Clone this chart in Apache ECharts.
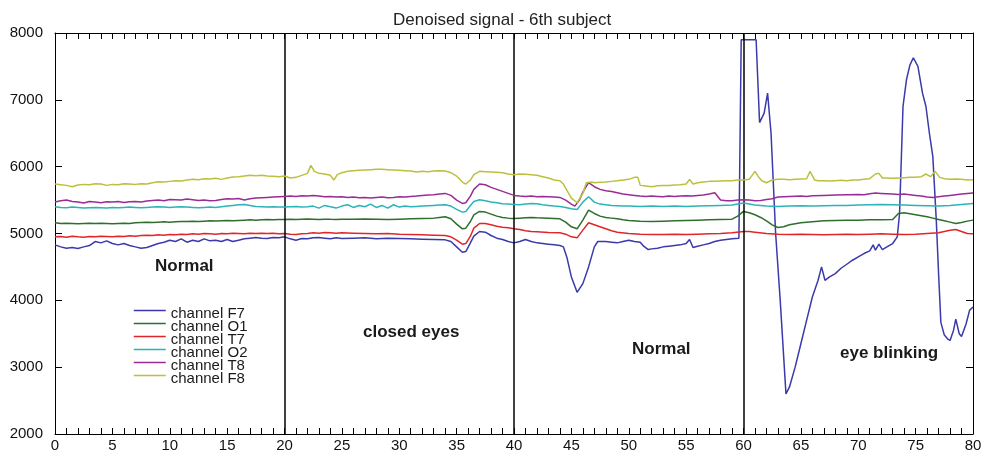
<!DOCTYPE html>
<html>
<head>
<meta charset="utf-8">
<title>Denoised signal - 6th subject</title>
<script src="https://cdn.jsdelivr.net/npm/echarts@6/dist/echarts.min.js"></script>
<style>
  html, body { margin: 0; padding: 0; background: #ffffff; }
  #chart { width: 989px; height: 453px; }
</style>
</head>
<body>
<div id="chart"></div>
<script>
// EEG channels after denoising: [time (s), amplitude]
const channelF7 = [
  [0,4830],[0.5,4800],[1,4780],[1.5,4790],[2,4775],[2.5,4800],[3,4820],[3.5,4880],[4,4860],[4.5,4890],
  [5,4850],[5.5,4830],[6,4850],[6.5,4820],[7,4800],[7.5,4780],[8,4790],[8.5,4820],[9,4850],[9.5,4870],
  [10,4900],[10.5,4880],[11,4920],[11.5,4870],[12,4900],[12.5,4880],[13,4920],[13.5,4890],[14,4900],[14.5,4880],
  [15,4910],[15.5,4880],[16,4900],[16.5,4920],[17,4930],[17.5,4940],[18,4930],[18.5,4925],[19,4940],[19.5,4935],
  [20,4950],[20.5,4920],[21,4900],[21.5,4925],[22,4920],[22.5,4935],[23,4940],[23.5,4930],[24,4920],[24.5,4935],
  [25,4925],[26,4930],[27,4935],[28,4920],[29,4930],[30,4925],[31,4920],[32,4915],[33,4910],[34,4905],
  [34.5,4880],[35,4800],[35.5,4720],[35.8,4730],[36.2,4860],[36.5,4960],[37,5030],[37.5,5020],[38,4970],[38.5,4930],
  [39,4910],[39.5,4880],[40,4860],[40.5,4880],[41,4910],[41.5,4880],[42,4860],[42.5,4850],[43,4840],[43.5,4830],
  [44,4820],[44.3,4800],[44.6,4650],[45,4350],[45.5,4120],[46,4250],[46.5,4500],[47,4800],[47.3,4880],[48,4880],
  [48.5,4870],[49,4860],[49.5,4880],[50,4900],[50.5,4880],[51,4870],[51.3,4810],[51.7,4760],[52,4770],[52.5,4780],
  [53,4800],[53.5,4810],[54,4820],[54.5,4830],[55,4850],[55.3,4910],[55.6,4790],[56,4810],[56.5,4830],[57,4850],
  [57.5,4880],[58,4900],[58.5,4910],[59,4920],[59.6,4930],[59.8,7900],[61.1,7900],[61.4,6660],[61.8,6800],[62.1,7100],
  [62.4,6500],[62.8,5000],[63.2,4000],[63.7,2600],[64,2700],[64.5,3000],[65,3350],[65.5,3700],[66,4050],[66.5,4300],
  [66.8,4500],[67.1,4300],[67.5,4350],[68,4400],[68.5,4480],[69,4540],[69.5,4600],[70,4650],[70.5,4700],[71,4740],
  [71.3,4830],[71.5,4750],[71.8,4840],[72.1,4760],[72.5,4800],[73,4850],[73.4,4950],[73.6,5300],[73.9,6900],[74.2,7300],
  [74.5,7520],[74.8,7630],[75.2,7500],[75.6,7100],[75.9,6900],[76.2,6500],[76.5,6150],[76.8,5200],[77,4400],[77.2,3670],
  [77.5,3480],[77.8,3420],[78,3400],[78.3,3550],[78.5,3720],[78.8,3500],[79,3460],[79.4,3650],[79.7,3850],[80,3900]
];

const channelO1 = [
  [0,5160],[0.5,5150],[1,5155],[1.5,5150],[2,5145],[2.5,5150],[3,5155],[3.5,5150],[4,5155],[4.5,5150],
  [5,5145],[5.5,5150],[6,5155],[6.5,5150],[7,5160],[7.5,5165],[8,5170],[8.5,5165],[9,5170],[9.5,5175],
  [10,5170],[10.5,5175],[11,5180],[11.5,5178],[12,5182],[12.5,5180],[13,5185],[13.5,5190],[14,5188],[14.5,5192],
  [15,5195],[15.5,5190],[16,5195],[16.5,5200],[17,5205],[17.5,5200],[18,5205],[18.5,5208],[19,5205],[19.5,5210],
  [20,5210],[20.5,5215],[21,5210],[21.5,5215],[22,5218],[22.5,5215],[23,5210],[23.5,5215],[24,5212],[24.5,5210],
  [25,5215],[26,5212],[27,5218],[28,5215],[29,5210],[30,5215],[31,5220],[32,5225],[33,5230],[33.5,5240],
  [34,5250],[34.5,5220],[35,5140],[35.5,5070],[35.8,5080],[36.2,5180],[36.5,5280],[37,5330],[37.5,5320],[38,5290],
  [38.5,5260],[39,5240],[39.5,5230],[40,5225],[40.5,5230],[41,5235],[41.5,5240],[42,5235],[43,5230],[44,5220],
  [44.5,5170],[45,5100],[45.5,5070],[46,5200],[46.5,5350],[47,5300],[47.5,5260],[48,5240],[48.5,5230],[49,5220],
  [49.5,5205],[50,5195],[51,5185],[52,5180],[53,5185],[54,5190],[55,5195],[56,5200],[57,5205],[58,5210],
  [59,5215],[59.5,5260],[60,5330],[60.5,5310],[61,5280],[61.5,5240],[62,5190],[62.5,5130],[63,5090],[63.5,5100],
  [64,5130],[65,5160],[66,5175],[67,5190],[68,5195],[69,5200],[70,5200],[71,5205],[72,5205],[73,5210],
  [73.5,5300],[74,5310],[74.5,5295],[75,5280],[76,5250],[76.5,5230],[77,5210],[77.5,5190],[78,5170],[78.5,5150],
  [79,5165],[79.5,5185],[80,5200]
];

const channelT7 = [
  [0,4950],[0.5,4955],[1,4945],[1.5,4960],[2,4950],[2.5,4945],[3,4955],[3.5,4950],[4,4960],[4.5,4955],
  [5,4950],[5.5,4960],[6,4955],[6.5,4965],[7,4960],[7.5,4970],[8,4975],[8.5,4970],[9,4980],[9.5,4975],
  [10,4985],[10.5,4980],[11,4990],[11.5,4985],[12,4995],[12.5,4990],[13,5000],[13.5,4995],[14,4990],[14.5,5000],
  [15,4995],[15.5,5005],[16,5000],[16.5,4995],[17,5005],[17.5,5000],[18,5005],[18.5,5000],[19,5005],[19.5,4995],
  [20,5000],[20.5,4990],[21,4985],[21.5,4995],[22,5000],[22.5,5010],[23,5005],[23.5,5015],[24,5010],[24.5,5005],
  [25,5010],[26,5005],[27,5000],[28,4995],[29,5000],[30,4990],[31,4985],[32,4980],[33,4975],[34,4970],
  [34.5,4950],[35,4900],[35.5,4840],[35.8,4850],[36.2,4960],[36.5,5080],[37,5150],[37.5,5150],[38,5130],[38.5,5110],
  [39,5095],[39.5,5085],[40,5070],[40.5,5060],[41,5040],[41.5,5030],[42,5025],[43,5015],[44,5010],[44.5,4990],
  [45,4950],[45.5,4935],[46,5050],[46.5,5160],[47,5130],[47.5,5100],[48,5070],[48.5,5040],[49,5020],[50,5000],
  [51,4990],[52,4985],[53,4985],[54,4990],[55,4985],[56,4990],[57,4995],[58,5000],[59,5010],[60,5030],
  [60.5,5030],[61,5020],[62,5000],[63,4990],[64,4985],[65,4990],[66,4985],[67,4980],[68,4985],[69,4990],
  [70,4985],[71,4990],[72,4995],[73,4990],[74,4985],[75,4990],[76,5000],[77,5010],[78,5050],[78.5,5060],
  [79,5030],[79.5,5000],[80,4995]
];

const channelO2 = [
  [0,5400],[0.5,5390],[1,5385],[1.5,5395],[2,5390],[2.5,5380],[3,5385],[3.5,5390],[4,5385],[4.5,5380],
  [5,5390],[5.5,5385],[6,5390],[6.5,5395],[7,5390],[7.5,5385],[8,5390],[8.5,5395],[9,5400],[9.5,5395],
  [10,5390],[10.5,5395],[11,5400],[11.5,5395],[12,5390],[12.5,5385],[13,5390],[13.5,5395],[14,5390],[14.5,5400],
  [15,5410],[15.5,5420],[16,5430],[16.5,5435],[17,5420],[17.5,5405],[18,5400],[18.5,5395],[19,5400],[19.5,5395],
  [20,5395],[20.5,5400],[21,5405],[21.5,5395],[22,5400],[22.5,5410],[23,5380],[23.5,5420],[24,5400],[24.5,5380],
  [25,5410],[25.5,5430],[26,5390],[26.5,5420],[27,5400],[27.5,5440],[28,5390],[28.5,5420],[29,5380],[29.5,5430],
  [30,5395],[30.5,5410],[31,5400],[31.5,5405],[32,5410],[32.5,5415],[33,5420],[33.5,5425],[34,5430],[34.5,5410],
  [35,5360],[35.5,5320],[35.8,5330],[36.2,5420],[36.5,5480],[37,5505],[37.5,5490],[38,5470],[38.5,5460],[39,5445],
  [39.5,5440],[40,5435],[40.5,5430],[41,5440],[41.5,5450],[42,5445],[42.5,5430],[43,5420],[43.5,5410],[44,5405],
  [44.5,5390],[45,5370],[45.5,5360],[46,5470],[46.5,5550],[47,5470],[47.5,5440],[48,5430],[48.5,5420],[49,5415],
  [49.5,5410],[50,5410],[51,5405],[52,5410],[53,5405],[54,5410],[55,5405],[56,5410],[57,5415],[58,5420],
  [59,5425],[59.5,5440],[60,5455],[60.5,5440],[61,5425],[62,5410],[63,5405],[64,5410],[65,5415],[66,5410],
  [67,5415],[68,5418],[69,5420],[70,5425],[71,5430],[72,5435],[73,5430],[74,5425],[75,5420],[76,5415],
  [77,5410],[78,5420],[79,5435],[80,5450]
];

const channelT8 = [
  [0,5470],[0.5,5490],[1,5500],[1.5,5480],[2,5470],[2.5,5455],[3,5480],[3.5,5470],[4,5460],[4.5,5475],
  [5,5470],[5.5,5480],[6,5465],[6.5,5475],[7,5480],[7.5,5470],[8,5485],[8.5,5495],[9,5500],[9.5,5490],
  [10,5510],[10.5,5505],[11,5500],[11.5,5515],[12,5505],[12.5,5495],[13,5500],[13.5,5490],[14,5495],[14.5,5510],
  [15,5520],[15.5,5515],[16,5525],[16.5,5500],[17,5520],[17.5,5530],[18,5535],[18.5,5540],[19,5545],[19.5,5550],
  [20,5555],[20.5,5560],[21,5555],[21.5,5565],[22,5560],[22.5,5570],[23,5560],[23.5,5550],[24,5555],[24.5,5545],
  [25,5550],[25.5,5540],[26,5545],[26.5,5535],[27,5540],[27.5,5530],[28,5540],[28.5,5545],[29,5535],[29.5,5540],
  [30,5550],[30.5,5545],[31,5555],[31.5,5560],[32,5570],[32.5,5575],[33,5580],[33.5,5590],[34,5600],[34.5,5570],
  [35,5500],[35.5,5450],[35.8,5460],[36.2,5560],[36.5,5660],[37,5740],[37.5,5730],[38,5690],[38.5,5660],[39,5630],
  [39.5,5600],[40,5570],[40.5,5560],[41,5555],[41.5,5560],[42,5550],[42.5,5555],[43,5550],[43.5,5545],[44,5540],
  [44.5,5500],[45,5440],[45.3,5410],[45.7,5500],[46,5620],[46.5,5760],[47,5700],[47.5,5660],[48,5640],[48.5,5630],
  [49,5610],[49.5,5590],[50,5580],[50.5,5570],[51,5560],[51.5,5555],[52,5560],[52.5,5555],[53,5550],[53.5,5560],
  [54,5555],[54.5,5560],[55,5565],[55.5,5560],[56,5570],[56.5,5575],[57,5590],[57.5,5610],[58,5500],[58.5,5490],
  [59,5490],[59.5,5500],[60,5505],[60.5,5500],[61,5490],[61.5,5495],[62,5510],[62.5,5520],[63,5545],[63.5,5550],
  [64,5555],[65,5560],[65.5,5555],[66,5565],[67,5570],[68,5575],[69,5580],[70,5585],[70.5,5580],[71,5595],
  [71.5,5605],[72,5600],[73,5590],[73.5,5585],[74,5590],[74.5,5580],[75,5570],[75.5,5560],[76,5545],[76.5,5540],
  [77,5550],[77.5,5560],[78,5570],[78.5,5580],[79,5590],[79.5,5600],[80,5605]
];

const channelF8 = [
  [0,5740],[0.5,5730],[1,5720],[1.5,5700],[2,5725],[2.5,5735],[3,5730],[3.5,5745],[4,5740],[4.5,5720],
  [5,5735],[5.5,5730],[6,5745],[6.5,5740],[7,5735],[7.5,5745],[8,5740],[8.5,5760],[9,5775],[9.5,5770],
  [10,5780],[10.5,5790],[11,5785],[11.5,5800],[12,5810],[12.5,5805],[13,5820],[13.5,5815],[14,5825],[14.5,5810],
  [15,5830],[15.5,5845],[16,5850],[16.5,5860],[17,5870],[17.5,5865],[18,5870],[18.5,5860],[19,5855],[19.5,5850],
  [20,5860],[20.5,5830],[21,5840],[21.5,5870],[22,5900],[22.3,6020],[22.6,5930],[23,5900],[23.5,5890],[24,5870],
  [24.3,5800],[24.6,5880],[25,5910],[25.5,5930],[26,5940],[26.5,5945],[27,5950],[27.5,5955],[28,5960],[28.5,5960],
  [29,5955],[29.5,5950],[30,5945],[30.5,5940],[31,5935],[31.5,5920],[32,5930],[32.5,5925],[33,5935],[33.5,5940],
  [34,5935],[34.5,5910],[35,5860],[35.5,5770],[35.8,5740],[36.2,5800],[36.5,5880],[37,5930],[37.5,5925],[38,5920],
  [38.5,5915],[39,5910],[39.5,5890],[40,5880],[40.5,5890],[41,5885],[41.5,5880],[42,5870],[42.5,5850],[43,5830],
  [43.5,5800],[44,5790],[44.3,5740],[44.7,5620],[45,5530],[45.5,5460],[46,5600],[46.3,5760],[46.8,5770],[47,5760],
  [47.5,5765],[48,5770],[48.5,5780],[49,5790],[49.5,5800],[50,5810],[50.5,5840],[50.8,5840],[51,5720],[51.5,5710],
  [52,5700],[52.5,5715],[53,5720],[53.5,5720],[54,5725],[54.5,5730],[55,5740],[55.3,5810],[55.6,5740],[56,5760],
  [56.5,5770],[57,5780],[57.5,5780],[58,5785],[58.5,5790],[59,5790],[59.5,5800],[60,5800],[60.5,5810],[61,5930],
  [61.3,5850],[61.6,5790],[62,5760],[62.5,5800],[63,5810],[63.5,5810],[64,5805],[64.5,5810],[65,5815],[65.5,5820],
  [65.8,5930],[66.2,5800],[66.5,5790],[67,5790],[67.5,5785],[68,5790],[68.5,5795],[69,5790],[69.5,5800],[70,5800],
  [70.5,5810],[71,5820],[71.5,5890],[71.8,5900],[72.1,5830],[72.5,5830],[73,5825],[73.5,5830],[74,5835],[74.5,5840],
  [75,5840],[75.5,5850],[75.9,5890],[76.3,5850],[76.7,5930],[77.1,5840],[77.5,5820],[78,5810],[78.5,5815],[79,5810],
  [79.5,5800],[80,5805]
];

const channelNames = ['channel F7', 'channel O1', 'channel T7', 'channel O2', 'channel T8', 'channel F8'];
const channelData = [channelF7, channelO1, channelT7, channelO2, channelT8, channelF8];
const channelColors = ['#3a3aab', '#2f6e2c', '#e0262a', '#2ab4b8', '#9a2c96', '#bcc03c'];

// Session boundaries (s) and the condition recorded in each segment
const sectionBounds = [20, 40, 60];
const sectionNotes = [
  { text: 'Normal', x: 155, y: 258 },
  { text: 'closed eyes', x: 363, y: 324 },
  { text: 'Normal', x: 632, y: 341 },
  { text: 'eye blinking', x: 840, y: 345 }
];

const FONT = '"Liberation Sans", Arial, Helvetica, sans-serif';

const chart = echarts.init(document.getElementById('chart'), null, { renderer: 'canvas' });

const axisLine = { show: true, onZero: false, lineStyle: { color: '#000', width: 1 } };

function xAxisDef(position, showLabels) {
  return {
    type: 'value', position: position, min: 0, max: 80, interval: 5,
    axisLine: axisLine,
    axisTick: { show: true, inside: true, length: 6, lineStyle: { color: '#000', width: 1 } },
    minorTick: { show: true, splitNumber: 5, length: 6, lineStyle: { color: '#000', width: 1 } },
    splitLine: { show: false },
    axisLabel: { show: showLabels, fontSize: 15, color: '#111', fontFamily: FONT, margin: 4 }
  };
}

function yAxisDef(position, showLabels) {
  return {
    type: 'value', position: position, min: 2000, max: 8000, interval: 1000,
    axisLine: axisLine,
    axisTick: { show: true, inside: true, length: 7, lineStyle: { color: '#000', width: 1 } },
    splitLine: { show: false },
    axisLabel: {
      show: showLabels, fontSize: 15, color: '#111', fontFamily: FONT, margin: 12,
      formatter: function (v) { return String(v); }
    }
  };
}

const series = channelData.map(function (data, i) {
  const s = {
    name: channelNames[i],
    type: 'line',
    data: data,
    symbol: 'none',
    showSymbol: false,
    smooth: false,
    animation: false,
    color: channelColors[i],
    lineStyle: { color: channelColors[i], width: 1.5 },
    z: 2 + i
  };
  if (i === 0) {
    s.markLine = {
      silent: true,
      symbol: 'none',
      label: { show: false },
      lineStyle: { color: '#000', width: 1.5, type: 'solid' },
      data: sectionBounds.map(function (b) { return { xAxis: b }; }),
      animation: false
    };
  }
  return s;
});

chart.setOption({
  backgroundColor: '#ffffff',
  animation: false,
  title: {
    text: 'Denoised signal - 6th subject',
    left: 393, top: 12, padding: 0,
    textStyle: { fontSize: 17, fontWeight: 'normal', color: '#222', fontFamily: FONT }
  },
  grid: { left: 55, right: 16, top: 33, bottom: 18, containLabel: false },
  xAxis: [xAxisDef('bottom', true), xAxisDef('top', false)],
  yAxis: [yAxisDef('left', true), yAxisDef('right', false)],
  legend: {
    orient: 'vertical',
    left: 133, top: 300,
    padding: 0,
    itemWidth: 32, itemHeight: 13, itemGap: -8,
    data: channelNames,
    itemStyle: { opacity: 0 },
    lineStyle: { width: 1.5 },
    formatter: '{t|{name}}',
    textStyle: {
      fontSize: 15, color: '#1a1a1a', fontFamily: FONT,
      rich: { t: { fontSize: 15, lineHeight: 15, color: '#1a1a1a', fontFamily: FONT, padding: [6, 0, 0, 0] } }
    },
    selectedMode: false
  },
  graphic: sectionNotes.map(function (n) {
    return {
      type: 'text', left: n.x, top: n.y, silent: true,
      style: { text: n.text, font: 'bold 17px ' + FONT, fill: '#1a1a1a' }
    };
  }),
  series: series
});
</script>
</body>
</html>
